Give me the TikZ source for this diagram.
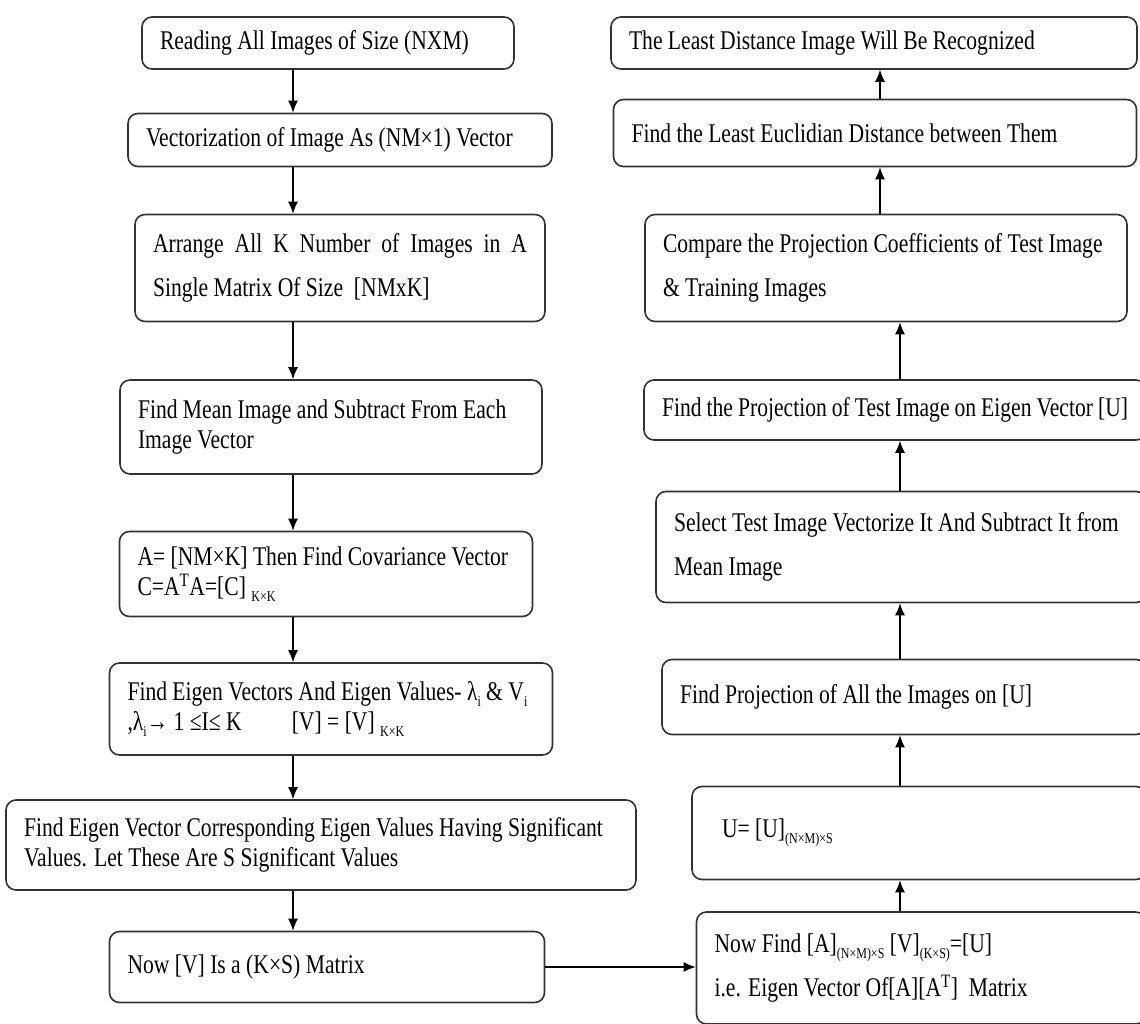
\documentclass[tikz,border=0pt]{standalone}
\usepackage{fontspec}
\setmainfont{Liberation Serif}[FakeStretch=0.8]
\usetikzlibrary{arrows.meta}
\newcommand\lowtxt[1]{\raisebox{-0.45ex}{\fontsize{15}{15}\selectfont #1}}
\hyphenpenalty=10000
\exhyphenpenalty=10000

\begin{document}
\begin{tikzpicture}[x=1pt,y=-1pt]

\tikzstyle{every node}=[font=\fontsize{27}{30}\selectfont]
\tikzstyle{box}=[draw=black!80, line width=1.6pt, rounded corners=10pt, inner xsep=18pt, inner ysep=0pt, align=flush left]
\tikzstyle{tall}=[font=\fontsize{27}{44}\selectfont]
\tikzstyle{flow}=[->, >={Latex[length=12pt,width=10pt]}, line width=1.3pt]

\clip (0,0) rectangle (1140,1024);

\pgfmathsetmacro\xa{293}
\pgfmathsetmacro\xb{880}
\pgfmathsetmacro\xc{900}
\coordinate (lane) at (\xa,0);
\coordinate (upper) at (\xb,0);
\coordinate (lower) at (\xc,0);

% training side
\node[box, text width=336pt, minimum height=52pt] (read) at (328,43) {Reading All Images of Size (NXM)};
\node[box, text width=388pt, minimum height=53pt] (vectorize) at (340,140) {Vectorization of Image As (NM×1) Vector};
\node[box, tall, align=justify, text width=374pt, minimum height=107pt] (arrange) at (340,268) {Arrange All K Number of Images in A\linebreak Single Matrix Of Size\ \ [NMxK]};
\node[box, text width=386pt, minimum height=94pt] (mean) at (331,427) {Find Mean Image and Subtract From Each\\Image Vector};
\node[box, text width=377pt, minimum height=85pt] (covar) at (326,574) {A= [NM×K] Then Find Covariance Vector\\C=A\textsuperscript{T}A=[C] \lowtxt{K×K}};
\node[box, text width=407pt, minimum height=92pt] (eigen) at (331,709) {Find Eigen Vectors And Eigen Values- λ\lowtxt{i} \& V\lowtxt{i}\\,λ\lowtxt{i}→ 1 ≤I≤ K\hspace{50pt}[V] = [V] \lowtxt{K×K}};
\node[box, text width=594pt, minimum height=90pt] (signif) at (321,845) {Find Eigen Vector Corresponding Eigen Values Having Significant\\Values. Let These Are S Significant Values};
\node[box, text width=399pt, minimum height=71pt] (nowv) at (327,967) {Now [V] Is a (K×S) Matrix};

\draw[flow] (read.south -| lane) -- (vectorize.north -| lane);
\draw[flow] (vectorize.south -| lane) -- (arrange.north -| lane);
\draw[flow] (arrange.south -| lane) -- (mean.north -| lane);
\draw[flow] (mean.south -| lane) -- (covar.north -| lane);
\draw[flow] (covar.south -| lane) -- (eigen.north -| lane);
\draw[flow] (eigen.south -| lane) -- (signif.north -| lane);
\draw[flow] (signif.south -| lane) -- (nowv.north -| lane);

% test side
\node[box, tall, text width=413pt, minimum height=112pt] (findu) at (921,968) {Now Find [A]\lowtxt{(N×M)×S} [V]\lowtxt{(K×S)}=[U]\\i.e. Eigen Vector Of[A][A\textsuperscript{T}]\ \ Matrix};
\node[box, text width=418pt, minimum height=93pt] (ueq) at (919,833) {\hspace*{12pt}U= [U]\lowtxt{(N×M)×S}};
\node[box, text width=448pt, minimum height=75pt] (projall) at (904,697) {Find Projection of All the Images on [U]};
\node[box, tall, text width=454pt, minimum height=111pt] (select) at (901,547) {Select Test Image Vectorize It And Subtract It from\\Mean Image};
\node[box, text width=466pt, minimum height=60pt] (projtest) at (895,410) {Find the Projection of Test Image on Eigen Vector [U]};
\node[box, tall, text width=446pt, minimum height=107pt] (compare) at (886,268) {Compare the Projection Coefficients of Test Image\\\& Training Images};
\node[box, text width=487pt, minimum height=67pt] (euclid) at (875,133) {Find the Least Euclidian Distance between Them};
\node[box, text width=490pt, minimum height=52pt] (recog) at (874,43) {The Least Distance Image Will Be Recognized};

\draw[flow] (nowv.east) -- (nowv.east -| findu.west);
\draw[flow] (findu.north -| lower) -- (ueq.south -| lower);
\draw[flow] (ueq.north -| lower) -- (projall.south -| lower);
\draw[flow] (projall.north -| lower) -- (select.south -| lower);
\draw[flow] (select.north -| lower) -- (projtest.south -| lower);
\draw[flow] (projtest.north -| lower) -- (compare.south -| lower);
\draw[flow] (compare.north -| upper) -- (euclid.south -| upper);
\draw[flow] (euclid.north -| upper) -- (recog.south -| upper);

\end{tikzpicture}
\end{document}
